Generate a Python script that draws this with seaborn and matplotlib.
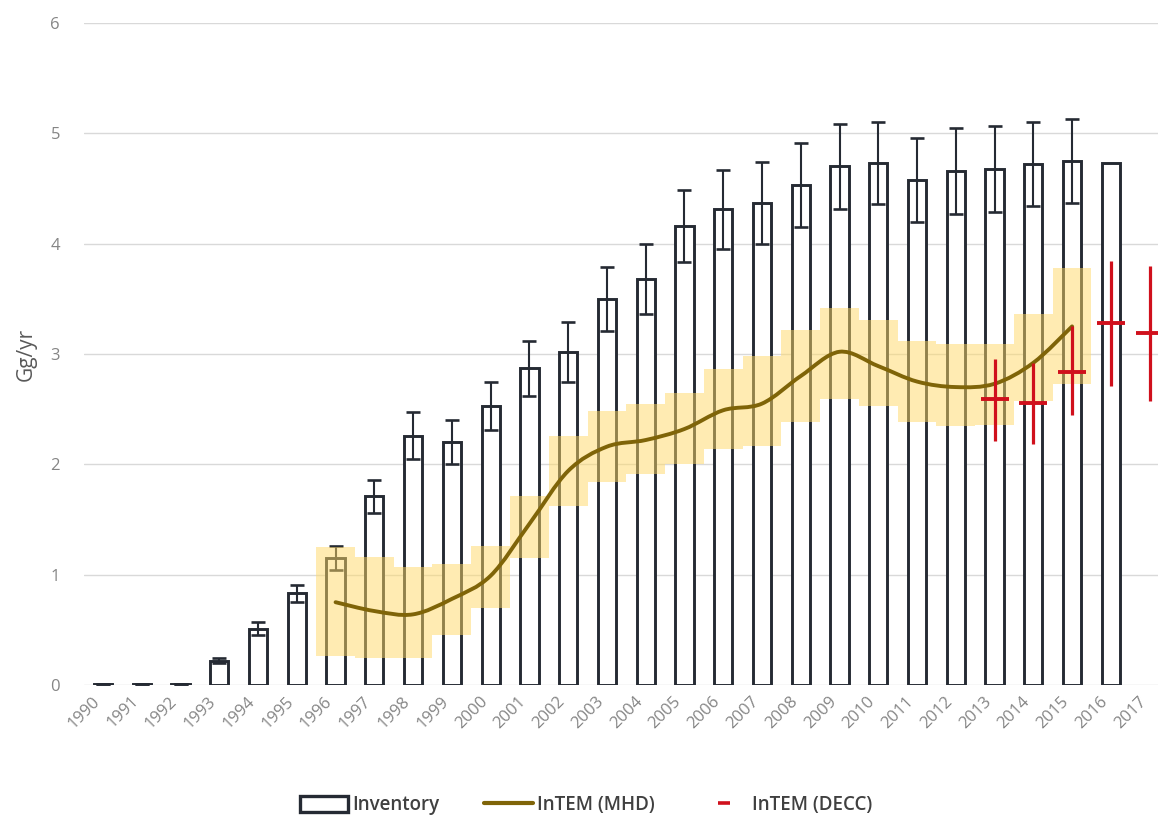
import numpy as np
import pandas as pd
import matplotlib
matplotlib.use("Agg")
import matplotlib.pyplot as plt
import seaborn as sns
from matplotlib.path import Path
from matplotlib.patches import PathPatch, Patch
from matplotlib.lines import Line2D

# ---- data -------------------------------------------------------------
years = [str(y) for y in range(1990, 2018)]

# bottom-up inventory (Gg/yr) and its uncertainty
inventory = [0.01, 0.01, 0.01, 0.22, 0.51, 0.83, 1.15, 1.71, 2.26, 2.20,
             2.53, 2.87, 3.02, 3.50, 3.68, 4.16, 4.31, 4.37, 4.53, 4.70,
             4.73, 4.58, 4.66, 4.68, 4.72, 4.75, 4.73, np.nan]
inventory_err = [0.0, 0.0, 0.0, 0.02, 0.06, 0.08, 0.11, 0.15, 0.21, 0.20,
                 0.22, 0.25, 0.27, 0.29, 0.32, 0.33, 0.36, 0.37, 0.38, 0.385,
                 0.375, 0.38, 0.39, 0.39, 0.38, 0.38, np.nan, np.nan]

# InTEM (MHD) estimate with uncertainty band, 1996-2015
mhd_years = [str(y) for y in range(1996, 2016)]
mhd_value = [0.75, 0.67, 0.64, 0.78, 0.99, 1.46, 1.94, 2.16, 2.22, 2.32,
             2.49, 2.55, 2.80, 3.02, 2.89, 2.75, 2.70, 2.73, 2.92, 3.25]
mhd_low = [0.26, 0.24, 0.24, 0.45, 0.70, 1.15, 1.62, 1.84, 1.91, 2.00,
           2.14, 2.17, 2.38, 2.59, 2.53, 2.38, 2.35, 2.36, 2.57, 2.73]
mhd_high = [1.25, 1.16, 1.07, 1.10, 1.26, 1.71, 2.26, 2.48, 2.55, 2.65,
            2.86, 2.98, 3.22, 3.42, 3.31, 3.12, 3.09, 3.09, 3.36, 3.78]

# InTEM (DECC) estimates, 2013-2017
decc_years = ["2013", "2014", "2015", "2016", "2017"]
decc_value = [2.59, 2.56, 2.84, 3.28, 3.19]
decc_low = [2.21, 2.18, 2.45, 2.71, 2.57]
decc_high = [2.95, 2.92, 3.25, 3.84, 3.80]

yticks = [0, 1, 2, 3, 4, 5, 6]

# ---- styling ------------------------------------------------------------
sns.set_theme(style="white")
plt.rcParams["font.family"] = ["Open Sans", "DejaVu Sans"]

BAR_EDGE = "#252a33"
MHD_LINE = "#7f6408"
MHD_BAND = "#ffd966"
DECC_RED = "#d0101c"
TICK_GREY = "#858585"
GRID_GREY = "#d9d9d9"

fig = plt.figure(figsize=(11.58, 8.21), dpi=100)
ax = fig.add_axes([0.0722, 0.1657, 0.9373, 0.8063])

inv_df = pd.DataFrame({"year": years, "inventory": inventory})
sns.barplot(data=inv_df, x="year", y="inventory", order=years,
            color="white", saturation=1, edgecolor=BAR_EDGE,
            linewidth=2.1, width=0.47, errorbar=None, ax=ax, zorder=2)

pos = {y: i for i, y in enumerate(years)}
xi = np.arange(len(years))
ax.errorbar(xi, inventory, yerr=inventory_err, fmt="none", ecolor=BAR_EDGE,
            elinewidth=1.5, capsize=4.8, capthick=1.9, zorder=3)

# uncertainty band drawn as full-width yearly blocks
mx = np.array([pos[y] for y in mhd_years], dtype=float)
lo = np.array(mhd_low)
hi = np.array(mhd_high)
ax.bar(mx, hi - lo, bottom=lo, width=1.0, color=MHD_BAND, alpha=0.5,
       linewidth=0, zorder=4)

# smooth curve through the yearly MHD values (Catmull-Rom as cubic Bezier)
pts = np.column_stack([mx, np.array(mhd_value)])
ext = np.vstack([pts[0], pts, pts[-1]])
verts = [tuple(pts[0])]
codes = [Path.MOVETO]
for k in range(1, len(ext) - 2):
    p0, p1, p2, p3 = ext[k - 1], ext[k], ext[k + 1], ext[k + 2]
    c1 = p1 + (p2 - p0) / 6.0
    c2 = p2 - (p3 - p1) / 6.0
    verts += [tuple(c1), tuple(c2), tuple(p2)]
    codes += [Path.CURVE4] * 3
ax.add_patch(PathPatch(Path(verts, codes), facecolor="none",
                       edgecolor=MHD_LINE, linewidth=2.8, zorder=5,
                       capstyle="round", joinstyle="round"))

# DECC estimates with their ranges
dx = np.array([pos[y] for y in decc_years], dtype=float)
dv = np.array(decc_value)
derr = np.vstack([dv - np.array(decc_low), np.array(decc_high) - dv])
ax.errorbar(dx, dv, yerr=derr, fmt="none", ecolor=DECC_RED,
            elinewidth=2.3, capsize=0, zorder=6)
ax.plot(dx, dv, linestyle="none", marker="_", markersize=20,
        markeredgewidth=2.8, color=DECC_RED, zorder=6)

# ---- axes ---------------------------------------------------------------
ax.set_xlim(-0.5, len(years) - 0.5)
ax.set_ylim(0, 6)
ax.set_yticks(yticks)
ax.set_yticklabels([str(t) for t in yticks], color=TICK_GREY, fontsize=12)
ax.set_xticks(xi)
ax.set_xticklabels(years, rotation=45, ha="right", va="top",
                   color=TICK_GREY, fontsize=12)
ax.tick_params(axis="y", length=0, pad=17)
ax.tick_params(axis="x", length=0, pad=6)
ax.set_xlabel("")
ax.set_ylabel("Gg/yr", color="#595959", fontsize=15, labelpad=10)
ax.yaxis.grid(True, color=GRID_GREY, linewidth=1.0, zorder=0)
ax.set_axisbelow(True)
for s in ax.spines.values():
    s.set_visible(False)

# ---- legend -------------------------------------------------------------
handles = [
    Patch(facecolor="white", edgecolor=BAR_EDGE, linewidth=2.4),
    Line2D([0], [0], color=MHD_LINE, linewidth=3.0),
    Line2D([0], [0], color=DECC_RED, linestyle="none", marker="_",
           markersize=9, markeredgewidth=2.6),
]
labels = ["Inventory", "InTEM (MHD)", "InTEM (DECC)"]
fig.legend(handles, labels, loc="center", bbox_to_anchor=(0.506, 0.019),
           ncol=3, frameon=False, handlelength=2.6,
           handleheight=1.0, handletextpad=0.2, columnspacing=2.4,
           labelcolor="#404040", prop={"size": 13.5, "weight": "semibold"})

fig.savefig("out.png", dpi=100)
